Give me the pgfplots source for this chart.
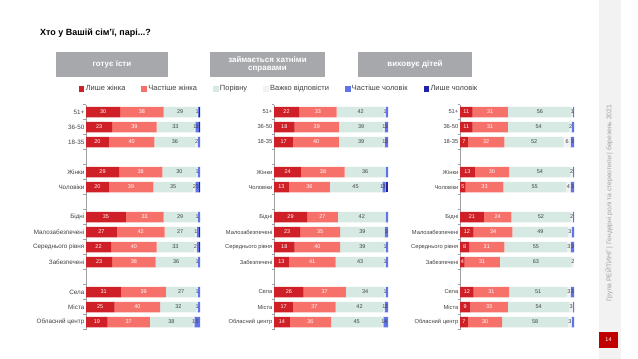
\documentclass[border=0pt]{standalone}
\usepackage{pgfplots}
\pgfplotsset{compat=1.18}
\usepackage{pgfplotstable}
\usepackage{fontspec}
\setmainfont{Liberation Sans}
\definecolor{lz}{HTML}{CF2027}
\definecolor{cz}{HTML}{F7716B}
\definecolor{pr}{HTML}{D6E9E2}
\definecolor{vv}{HTML}{F2F2F2}
\definecolor{cc}{HTML}{5F74E8}
\definecolor{lc}{HTML}{1F23A8}
\definecolor{txt}{HTML}{404040}
\definecolor{hdr}{HTML}{A6A8AB}
\definecolor{axisgray}{HTML}{A0A0A0}
\definecolor{pgred}{HTML}{C00000}

\pgfplotstableread{
row LZ CZ P V CC LC
0 30 38 29 1 1 1
1 23 39 33 1 3 1
2 20 40 36 2 2 0
4 29 38 30 1 2 0
5 20 39 35 2 3 1
7 35 33 29 1 2 0
8 27 42 27 1 2 1
9 22 40 33 2 2 1
10 23 38 36 1 2 0
12 31 39 27 1 2 0
13 25 40 32 1 2 0
14 19 37 38 1 5 0
}\tA
\pgfplotstableread{
row LZ CZ P V CC LC
0 22 33 42 1 2 0
1 18 39 39 1 3 0
2 17 40 39 1 3 0
4 24 38 36 0 2 0
5 13 36 45 1 3 2
7 29 27 42 0 2 0
8 23 35 39 0 3 0
9 18 40 39 1 2 0
10 13 41 43 1 2 0
12 26 37 34 1 2 0
13 17 37 42 1 3 0
14 14 36 45 1 4 0
}\tB
\pgfplotstableread{
row LZ CZ P V CC LC
0 11 31 56 1 1 0
1 11 31 54 2 2 0
2 7 32 52 6 3 0
4 13 30 54 2 1 0
5 5 33 55 4 3 0
7 21 24 52 2 1 0
8 12 34 49 3 2 0
9 8 31 55 3 3 0
10 4 31 63 2 0 0
12 12 31 51 3 3 0
13 9 33 54 3 1 0
14 7 30 58 3 2 0
}\tC

\pgfplotsset{
  panel/.style={
    xbar stacked, scale only axis, width=114bp, height=225bp,
    xmin=0, xmax=100, ymin=-0.5, ymax=14.5, y dir=reverse,
    bar width=10.5bp,
    axis x line=none, axis y line*=left,
    y axis line style={draw=axisgray, -},
    xtick=\empty,
    ytick={0,1,2,4,5,7,8,9,10,12,13,14},
    yticklabels={51+,36-50,18-35,Жінки,Чоловіки,Бідні,Малозабезпечені,Середнього рівня,Забезпечені,Села,Міста,Обласний центр},
    major tick length=0pt,
    minor ytick={-0.5,0.5,...,14.5},
    minor tick length=2.5bp,
    tick align=outside,
    minor tick style={draw=axisgray},
    yticklabel style={font=\fontsize{5.8}{6}\selectfont, text=txt, inner xsep=1.5bp},
    /pgf/number format/assume math mode=true,
  },
  seg/.style n args={4}{
    fill=#2, draw=none,
    point meta=explicit,
    visualization depends on={\thisrow{#1} \as \rawval},
    nodes near coords={\pgfmathparse{\rawval<#4 ? 0 : 1}\ifnum\pgfmathresult=1 \pgfmathprintnumber{\rawval}\fi},
    every node near coord/.append style={font=\fontsize{5.5}{6}\selectfont, text=#3, anchor=center, inner sep=0pt},
  },
}

\newcommand{\bars}[1]{%
  \addplot[seg={LZ}{lz}{white}{1}] table[x=LZ,y=row,meta=LZ] {#1};
  \addplot[seg={CZ}{cz}{white}{1}] table[x=CZ,y=row,meta=CZ] {#1};
  \addplot[seg={P}{pr}{txt}{1}] table[x=P,y=row,meta=P] {#1};
  \addplot[seg={V}{vv}{txt}{1}] table[x=V,y=row,meta=V] {#1};
  \addplot[seg={CC}{cc}{txt}{3}] table[x=CC,y=row,meta=CC] {#1};
  \addplot[seg={LC}{lc}{white}{99}] table[x=LC,y=row,meta=LC] {#1};
}

\begin{document}
\begin{tikzpicture}
\fill[white] (0,0) rectangle (638bp,-359bp);
% right strip
\fill[vv] (599bp,0) rectangle (621bp,-359bp);
\fill[pgred] (599bp,-332bp) rectangle (618bp,-348bp);
\node[text=white, font=\fontsize{5.5}{6}\selectfont] at (608.5bp,-340bp) {14};
\node[rotate=90, text=axisgray, font=\fontsize{6.8}{7}\selectfont] at (609bp,-203bp) {Група РЕЙТИНГ | Гендерні ролі та стереотипи | березень 2021};
% title
\node[anchor=base west, inner sep=0pt, text=black, font=\bfseries\fontsize{9}{10}\selectfont] at (40bp,-35bp) {Хто у Вашій сім'ї, парі...?};
% headers
\fill[hdr] (56bp,-52bp) rectangle (168bp,-77bp);
\node[text=white, font=\bfseries\fontsize{8}{9}\selectfont] at (112bp,-64.5bp) {готує їсти};
\fill[hdr] (210bp,-52bp) rectangle (325bp,-77bp);
\node[text=white, align=center, inner sep=0pt, font=\bfseries\fontsize{8}{8.5}\selectfont] at (267.5bp,-64.5bp) {займається хатніми\\справами};
\fill[hdr] (358bp,-52bp) rectangle (472bp,-77bp);
\node[text=white, font=\bfseries\fontsize{8}{9}\selectfont] at (415bp,-64.5bp) {виховує дітей};

\begin{axis}[panel, at={(86bp,-104.5bp)}, anchor=north west,
  yticklabel style={font=\fontsize{6.3}{7}\selectfont},
  legend columns=6,
  legend style={draw=none, fill=none, at={(1.693,1.069)}, anchor=center,
    font=\fontsize{7.5}{8}\selectfont, text=txt, inner sep=0pt,
    /tikz/every even column/.append style={column sep=14bp}},
  ]
  \addlegendimage{legend image code/.code={\fill[lz] (0bp,-2.3bp) rectangle (4.6bp,2.3bp);}}
  \addlegendentry{Лише жінка}
  \addlegendimage{legend image code/.code={\fill[cz] (0bp,-2.3bp) rectangle (4.6bp,2.3bp);}}
  \addlegendentry{Частіше жінка}
  \addlegendimage{legend image code/.code={\fill[pr] (0bp,-2.3bp) rectangle (4.6bp,2.3bp);}}
  \addlegendentry{Порівну}
  \addlegendimage{legend image code/.code={\fill[vv] (0bp,-2.3bp) rectangle (4.6bp,2.3bp);}}
  \addlegendentry{Важко відповісти}
  \addlegendimage{legend image code/.code={\fill[cc] (0bp,-2.3bp) rectangle (4.6bp,2.3bp);}}
  \addlegendentry{Частіше чоловік}
  \addlegendimage{legend image code/.code={\fill[lc] (0bp,-2.3bp) rectangle (4.6bp,2.3bp);}}
  \addlegendentry{Лише чоловік}
  \bars{\tA}
\end{axis}

\begin{axis}[panel, at={(274bp,-104.5bp)}, anchor=north west]
  \bars{\tB}
\end{axis}

\begin{axis}[panel, at={(460bp,-104.5bp)}, anchor=north west]
  \bars{\tC}
\end{axis}
\end{tikzpicture}
\end{document}
